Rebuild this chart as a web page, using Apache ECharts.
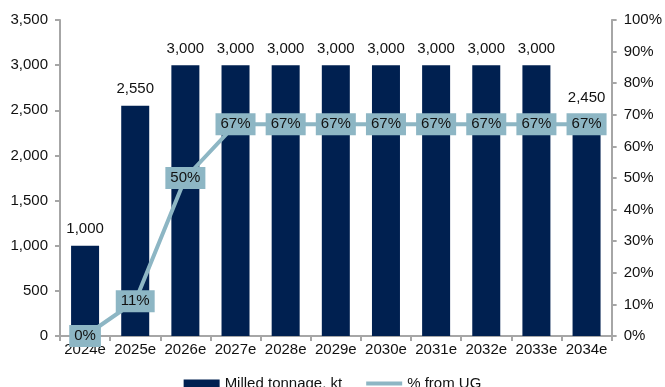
<!DOCTYPE html>
<html>
<head>
<meta charset="utf-8">
<script src="https://cdn.jsdelivr.net/npm/echarts@6/dist/echarts.min.js"></script>
<style>
  html, body { margin: 0; padding: 0; background: #fff; }
  #chart { width: 665px; height: 387px; }
</style>
</head>
<body>
<div id="chart"></div>
<script>
const categories = ['2024e', '2025e', '2026e', '2027e', '2028e', '2029e', '2030e', '2031e', '2032e', '2033e', '2034e'];
const milledTonnage = [1000, 2550, 3000, 3000, 3000, 3000, 3000, 3000, 3000, 3000, 2450];
const pctFromUG = [0, 11, 50, 67, 67, 67, 67, 67, 67, 67, 67];

const FONT = 'Liberation Sans, Arial, sans-serif';
const FS = 15;
const BAR = '#002050';
const LINE = '#8db6c4';
const AXIS = '#a6a6a6';
const TXT = '#111';

const chart = echarts.init(document.getElementById('chart'));
chart.setOption({
  animation: false,
  textStyle: { fontFamily: FONT },
  grid: { left: 60, right: 51, top: 20, bottom: 51, containLabel: false },
  legend: {
    bottom: -9,
    left: 'center',
    itemWidth: 36,
    itemHeight: 8,
    itemGap: 24,
    textStyle: { fontFamily: FONT, fontSize: FS, color: TXT },
    data: [
      { name: 'Milled tonnage, kt', icon: 'rect' },
      { name: '% from UG', icon: 'path://M0,0 L36,0 L36,4 L0,4 Z' }
    ]
  },
  xAxis: {
    type: 'category',
    data: categories,
    axisLine: { lineStyle: { color: AXIS, width: 2 } },
    axisTick: { show: true, alignWithLabel: false, length: 5, lineStyle: { color: AXIS, width: 2 } },
    axisLabel: { color: TXT, fontSize: FS, fontFamily: FONT, margin: 6, interval: 0 }
  },
  yAxis: [
    {
      type: 'value', min: 0, max: 3500, interval: 500,
      axisLine: { show: true, lineStyle: { color: AXIS, width: 2 } },
      axisTick: { show: true, length: 5, lineStyle: { color: AXIS, width: 2 } },
      splitLine: { show: false },
      axisLabel: {
        color: TXT, fontSize: FS, fontFamily: FONT, margin: 12,
        formatter: v => v.toLocaleString('en-US')
      }
    },
    {
      type: 'value', min: 0, max: 100, interval: 10, position: 'right',
      axisLine: { show: true, lineStyle: { color: AXIS, width: 2 } },
      axisTick: { show: true, length: 5, lineStyle: { color: AXIS, width: 2 } },
      splitLine: { show: false },
      axisLabel: { color: TXT, fontSize: FS, fontFamily: FONT, margin: 12, formatter: '{value}%' }
    }
  ],
  series: [
    {
      name: 'Milled tonnage, kt',
      type: 'bar',
      data: milledTonnage,
      barWidth: 28,
      itemStyle: { color: BAR },
      label: {
        show: true, position: 'top', distance: 9,
        color: TXT, fontSize: FS, fontFamily: FONT,
        formatter: p => p.value.toLocaleString('en-US')
      }
    },
    {
      name: '% from UG',
      type: 'line',
      yAxisIndex: 1,
      data: pctFromUG,
      symbol: 'rect',
      symbolSize: 1,
      showSymbol: true,
      lineStyle: { color: LINE, width: 4 },
      itemStyle: { color: LINE },
      z: 5,
      label: {
        show: true, position: 'inside',
        color: TXT, fontSize: FS, fontFamily: FONT,
        backgroundColor: LINE,
        padding: [4, 5, 3, 5],
        formatter: p => p.value + '%'
      }
    }
  ]
});
</script>
</body>
</html>
